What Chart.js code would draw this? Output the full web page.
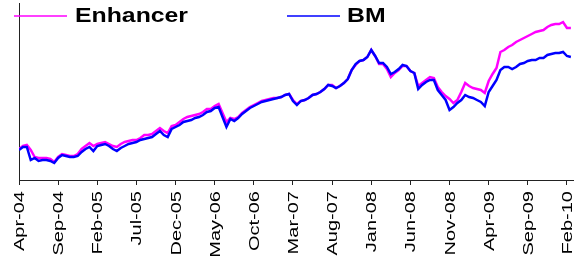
<!DOCTYPE html>
<html>
<head>
<meta charset="utf-8">
<script src="https://cdn.jsdelivr.net/npm/chart.js@4/dist/chart.umd.min.js"></script>
<style>
  html, body { margin: 0; padding: 0; background: #fff; }
  canvas { display: block; }
</style>
</head>
<body>
<canvas id="chart" width="574" height="256"></canvas>
<script>
// half-month steps starting Apr-04, a tick every 10 steps (5 months)
const tickLabels = ['Apr-04', 'Sep-04', 'Feb-05', 'Jul-05', 'Dec-05', 'May-06', 'Oct-06', 'Mar-07',
  'Aug-07', 'Jan-08', 'Jun-08', 'Nov-08', 'Apr-09', 'Sep-09', 'Feb-10'];

const enhancer = [31, 34, 35, 30, 23, 22, 22, 22, 21, 18, 23, 26, 25, 24, 24, 26, 31, 34, 37, 34,
  36, 37, 38, 36, 34, 33, 36, 38, 39, 40, 40, 42, 45, 45, 46, 49, 52, 49, 47, 54,
  55, 58, 61, 63, 64, 65, 66, 68, 71, 71, 74, 76, 67, 58, 62, 61, 63, 67, 70, 73,
  75, 77, 79, 80, 81, 82, 82, 83, 85, 86, 80, 76, 79, 80, 82, 85, 86, 88, 91, 95,
  95, 92, 94, 97, 101, 110, 115, 119, 120, 123, 130, 124, 116, 116, 111, 103, 107, 110, 114, 114,
  109, 107, 94, 97, 100, 103, 102, 93, 88, 84, 81, 77, 80, 88, 97, 94, 92, 91, 90, 87,
  99, 106, 112, 128, 130, 133, 135, 138, 140, 142, 144, 146, 148, 149, 150, 153, 155, 156, 156, 158,
  152, 152];

const bm = [30, 33, 33, 20, 22, 19, 20, 20, 19, 17, 22, 25, 24, 23, 23, 24, 28, 31, 33, 29,
  34, 35, 36, 34, 31, 29, 32, 34, 36, 37, 38, 40, 41, 42, 43, 46, 49, 45, 43, 51,
  53, 55, 58, 59, 60, 62, 63, 65, 68, 69, 72, 73, 63, 53, 61, 59, 62, 66, 69, 72,
  74, 76, 78, 79, 80, 81, 82, 83, 85, 86, 79, 75, 79, 80, 82, 85, 86, 88, 91, 95,
  94, 92, 94, 97, 101, 110, 116, 119, 120, 123, 130, 124, 117, 117, 113, 106, 108, 111, 115, 114,
  109, 107, 91, 95, 98, 100, 100, 90, 85, 80, 70, 73, 77, 80, 85, 83, 82, 80, 78, 74,
  88, 94, 100, 110, 113, 113, 111, 113, 116, 117, 119, 120, 120, 122, 122, 125, 126, 127, 127, 128,
  124, 123];

const seriesNames = ['Enhancer', 'BM'];
const seriesColors = ['#ff00ff', '#0000ff'];

function toPoints(arr) {
  return arr.map((v, i) => ({ x: i, y: v }));
}

// rotated, slightly stretched tick labels like the original export
const tickLabelPlugin = {
  id: 'tickLabelPlugin',
  afterDraw(chart) {
    const ctx = chart.ctx;
    const xs = chart.scales.x;
    ctx.save();
    ctx.fillStyle = '#000';
    ctx.font = '14.5px "Liberation Sans", Arial, sans-serif';
    ctx.textAlign = 'right';
    ctx.textBaseline = 'middle';
    tickLabels.forEach((lab, k) => {
      const px = xs.getPixelForValue(k * 10);
      ctx.save();
      ctx.translate(px + 1, 191);
      ctx.rotate(-Math.PI / 2);
      ctx.scale(1.38, 1);
      ctx.fillText(lab, 0, 0);
      ctx.restore();
    });
    ctx.restore();
  }
};

const legendPlugin = {
  id: 'legendPlugin',
  afterDraw(chart) {
    const ctx = chart.ctx;
    const items = [
      { x1: 14, x2: 67, tx: 75 },
      { x1: 287, x2: 340, tx: 347 }
    ];
    ctx.save();
    items.forEach((it, k) => {
      ctx.strokeStyle = seriesColors[k];
      ctx.lineWidth = 1.5;
      ctx.beginPath();
      ctx.moveTo(it.x1, 16);
      ctx.lineTo(it.x2, 16);
      ctx.stroke();
      ctx.save();
      ctx.translate(it.tx, 22);
      ctx.scale(1.24, 1);
      ctx.fillStyle = '#000';
      ctx.font = 'bold 20px "Liberation Sans", Arial, sans-serif';
      ctx.textBaseline = 'alphabetic';
      ctx.fillText(seriesNames[k], 0, 0);
      ctx.restore();
    });
    ctx.restore();
  }
};

new Chart(document.getElementById('chart'), {
  type: 'line',
  data: {
    datasets: [
      {
        label: seriesNames[0],
        data: toPoints(enhancer),
        borderColor: seriesColors[0],
        borderWidth: 2.5,
        pointRadius: 0,
        tension: 0,
        order: 1
      },
      {
        label: seriesNames[1],
        data: toPoints(bm),
        borderColor: seriesColors[1],
        borderWidth: 2.5,
        pointRadius: 0,
        tension: 0,
        order: 0
      }
    ]
  },
  options: {
    responsive: false,
    animation: false,
    layout: { padding: { top: 3, left: 0, right: 0, bottom: 0 } },
    plugins: {
      legend: { display: false },
      tooltip: { enabled: false }
    },
    scales: {
      x: {
        type: 'linear',
        min: 0,
        max: 141.8,
        afterFit: s => { s.height = 76; },
        ticks: { display: false, stepSize: 10, includeBounds: false },
        grid: { drawOnChartArea: false, drawTicks: true, tickLength: 5, color: '#222' },
        border: { color: '#222', width: 1 }
      },
      y: {
        min: 0,
        max: 177,
        afterFit: s => { s.width = 19; },
        ticks: { display: false },
        grid: { display: false },
        border: { display: true, color: '#222', width: 1 }
      }
    }
  },
  plugins: [tickLabelPlugin, legendPlugin]
});
</script>
</body>
</html>
